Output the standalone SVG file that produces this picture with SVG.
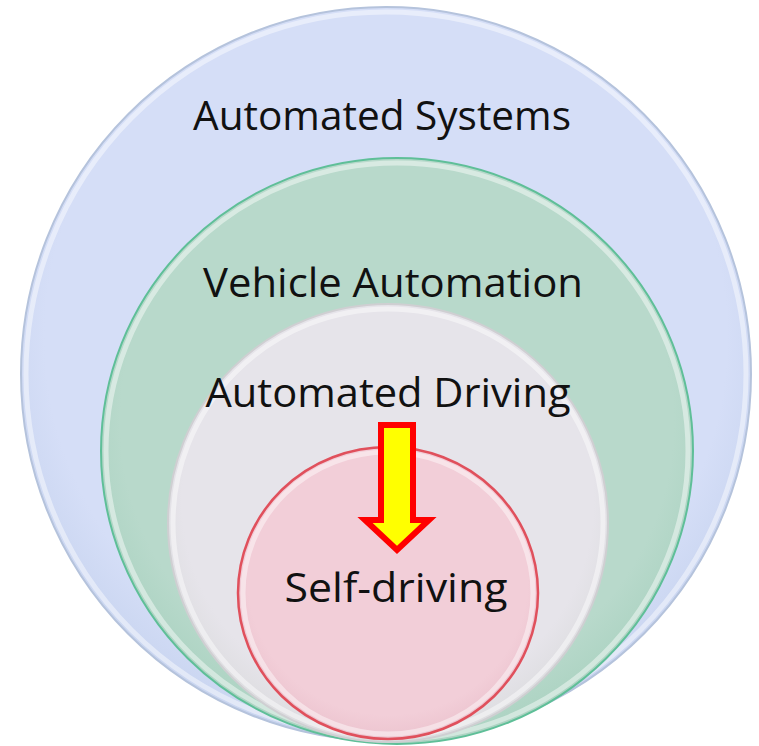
<svg xmlns="http://www.w3.org/2000/svg" width="759" height="746" viewBox="0 0 759 746">
<style>
.lbl{font-family:"Open Sans","Liberation Sans",sans-serif;font-size:40px;fill:#111;}
.rim{fill:none;stroke:#ffffff;stroke-opacity:0.45;stroke-width:5;}
</style>
<defs>
<radialGradient id="gBlue" cx="50%" cy="45%" r="55%"><stop offset="0.85" stop-color="#d5def7"/><stop offset="1" stop-color="#c9d5f0"/></radialGradient>
<radialGradient id="gGreen" cx="50%" cy="45%" r="55%"><stop offset="0.85" stop-color="#b8d9cb"/><stop offset="1" stop-color="#acd3c2"/></radialGradient>
<radialGradient id="gGray" cx="50%" cy="45%" r="55%"><stop offset="0.85" stop-color="#e6e4ea"/><stop offset="1" stop-color="#dddde0"/></radialGradient>
<radialGradient id="gPink" cx="50%" cy="45%" r="55%"><stop offset="0.85" stop-color="#f2ced8"/><stop offset="1" stop-color="#ecc4cf"/></radialGradient>
</defs>
<rect width="759" height="746" fill="#ffffff"/>
<g id="automated-systems">
<ellipse cx="386" cy="374" rx="365" ry="367" fill="url(#gBlue)" stroke="#b5c3dc" stroke-width="2"/>
<ellipse class="rim" cx="386" cy="374" rx="360" ry="362"/>
<text class="lbl" x="382" y="130" text-anchor="middle" textLength="378" lengthAdjust="spacingAndGlyphs">Automated Systems</text>
</g>
<g id="vehicle-automation">
<ellipse cx="397" cy="451" rx="296" ry="293" fill="url(#gGreen)" stroke="#5fbf98" stroke-width="2"/>
<ellipse class="rim" cx="397" cy="451" rx="291" ry="288"/>
<text class="lbl" x="393" y="297" text-anchor="middle" textLength="380" lengthAdjust="spacingAndGlyphs">Vehicle Automation</text>
</g>
<g id="automated-driving">
<ellipse cx="388" cy="523" rx="220" ry="219" fill="url(#gGray)" stroke="#cfcfd2" stroke-width="2"/>
<ellipse class="rim" cx="388" cy="523" rx="215" ry="214"/>
<text class="lbl" x="388" y="407" text-anchor="middle" textLength="365" lengthAdjust="spacingAndGlyphs">Automated Driving</text>
</g>
<g id="self-driving">
<ellipse cx="388" cy="593" rx="150" ry="146" fill="url(#gPink)" stroke="#e0505c" stroke-width="2.5"/>
<ellipse class="rim" cx="388" cy="593" rx="145" ry="141"/>
<text class="lbl" x="396" y="602" text-anchor="middle" textLength="223" lengthAdjust="spacingAndGlyphs">Self-driving</text>
</g>
<g id="connectors">
<path d="M381,425 H413 V520 H429 L397,550 L365,520 H381 Z" fill="#ffff00" stroke="#ff0000" stroke-width="6" stroke-linejoin="miter"/>
</g>
</svg>
